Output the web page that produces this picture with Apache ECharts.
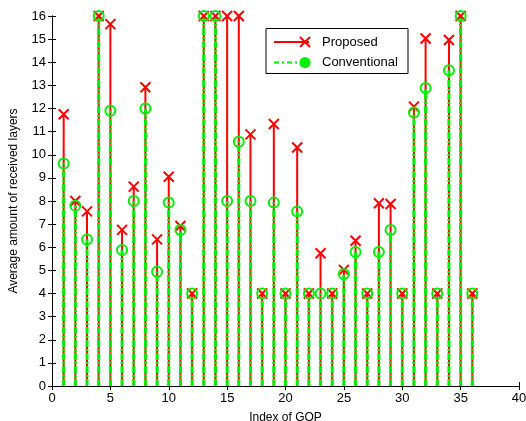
<!DOCTYPE html>
<html><head><meta charset="utf-8">
<script src="https://cdn.jsdelivr.net/npm/echarts@6/dist/echarts.min.js"></script>
<style>html,body{margin:0;padding:0;background:#fff}#c{width:526px;height:421px}</style>
</head><body><div id="c"></div>
<script>
const gopIndex = [1,2,3,4,5,6,7,8,9,10,11,12,13,14,15,16,17,18,19,20,21,22,23,24,25,26,27,28,29,30,31,32,33,34,35,36];
const proposed = [11.75,8.0,7.55,16,15.65,6.75,8.62,12.92,6.34,9.05,6.92,4,16,16,16,16,10.88,4,11.33,4,10.31,4,5.74,4,5.02,6.28,4,7.9,7.87,4,12.08,15.03,4,14.96,16,4];
const conventional = [9.62,7.8,6.34,16,11.9,5.88,8.0,12.0,4.94,7.94,6.75,4,16,16,8.0,10.56,8.0,4,7.93,4,7.55,4,4,4,4.84,5.79,4,5.79,6.75,4,11.83,12.89,4,13.65,16,4];
const xTicks = [0,5,10,15,20,25,30,35,40];
const yTicks = [0,1,2,3,4,5,6,7,8,9,10,11,12,13,14,15,16];

const RED = '#ff0000', GREEN = '#00ee00';
const font = 'Liberation Sans, Arial, sans-serif';
const pData = gopIndex.map((x,i)=>[x, proposed[i]]);
const cData = gopIndex.map((x,i)=>[x, conventional[i]]);

function stem(color, dash, w){
  return function(params, api){
    const p0 = api.coord([api.value(0), 0]);
    const p1 = api.coord([api.value(0), api.value(1)]);
    return {type:'line', shape:{x1:p0[0],y1:p0[1],x2:p1[0],y2:p1[1]},
      style:{stroke:color, lineWidth:w, lineDash:dash}};
  };
}
const crossPath = 'path://M0,0L10,10M10,0L0,10';
const chart = echarts.init(document.getElementById('c'));
const axisCommon = {
  type:'value', splitLine:{show:false},
  axisLine:{show:true, lineStyle:{color:'#000', width:1}},
  axisTick:{show:true, inside:true, length:4, lineStyle:{color:'#000'}},
  axisLabel:{color:'#000', fontSize:13, fontFamily:font}
};
chart.setOption({
  animation:false,
  grid:{left:52, right:7, top:16, bottom:35, show:false, containLabel:false, outerBoundsMode:'none'},
  xAxis:[
    Object.assign({}, axisCommon, {min:xTicks[0], max:xTicks[xTicks.length-1], interval:5, position:'bottom',
      name:'Index of GOP', nameLocation:'middle', nameGap:26, nameTextStyle:{color:'#000', fontSize:12, fontFamily:font},
      axisLabel:Object.assign({}, axisCommon.axisLabel, {margin:6})}),
    Object.assign({}, axisCommon, {min:0, max:40, interval:5, position:'top', axisLabel:{show:false}})
  ],
  yAxis:[
    Object.assign({}, axisCommon, {min:yTicks[0], max:yTicks[yTicks.length-1], interval:1, position:'left',
      name:'Average amount of received layers', nameLocation:'middle', nameGap:32, nameTextStyle:{color:'#000', fontSize:12, fontFamily:font},
      axisLabel:Object.assign({}, axisCommon.axisLabel, {margin:6})}),
    Object.assign({}, axisCommon, {min:0, max:16, interval:1, position:'right', axisLabel:{show:false}})
  ],
  series:[
    {type:'custom', renderItem:stem(RED, null, 2), data:pData, z:2, clip:false},
    {type:'custom', renderItem:stem(GREEN, [7,2,2,2], 3), data:cData, z:3, clip:false},
    {type:'scatter', data:pData, symbol:crossPath, symbolSize:10, z:4, clip:false,
      itemStyle:{color:'rgba(0,0,0,0)', borderColor:RED, borderWidth:2, opacity:1}},
    {type:'scatter', data:cData, symbol:'circle', symbolSize:10, z:5, clip:false,
      itemStyle:{color:'rgba(0,0,0,0)', borderColor:GREEN, borderWidth:2, opacity:1}}
  ],
  graphic:[
    {type:'rect', shape:{x:266, y:28.5, width:142, height:45}, style:{fill:'#fff', stroke:'#000', lineWidth:1}, z:100},
    {type:'line', shape:{x1:274, y1:42, x2:309, y2:42}, style:{stroke:RED, lineWidth:2}, z:101},
    {type:'line', shape:{x1:300, y1:37, x2:310, y2:47}, style:{stroke:RED, lineWidth:2}, z:101},
    {type:'line', shape:{x1:310, y1:37, x2:300, y2:47}, style:{stroke:RED, lineWidth:2}, z:101},
    {type:'text', style:{text:'Proposed', x:322, y:42, verticalAlign:'middle', fill:'#000', font:'13px '+font}, z:101},
    {type:'line', shape:{x1:274, y1:62.5, x2:303, y2:62.5}, style:{stroke:GREEN, lineWidth:2, lineDash:[5,3,2,3]}, z:101},
    {type:'circle', shape:{cx:305, cy:62.5, r:4}, style:{stroke:GREEN, lineWidth:3, fill:GREEN}, z:101},
    {type:'text', style:{text:'Conventional', x:322, y:62.5, verticalAlign:'middle', fill:'#000', font:'13px '+font}, z:101}
  ]
});
</script></body></html>
